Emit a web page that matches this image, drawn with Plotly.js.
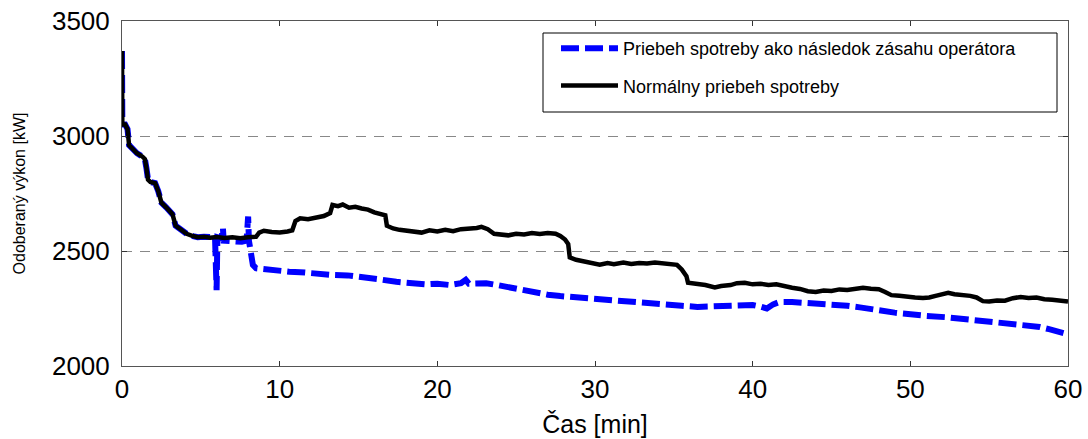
<!DOCTYPE html>
<html>
<head>
<meta charset="utf-8">
<script src="https://cdn.plot.ly/plotly-3.0.1.min.js"></script>
<style>html,body{margin:0;padding:0;background:#fff;}#chart{width:1088px;height:439px;}</style>
</head>
<body>
<div id="chart"></div>
<script>
// Normal consumption (black)
const tNormal = [0,0.02,0.2,0.35,0.45,0.7,0.95,1.3,1.45,1.55,1.65,1.8,2.1,2.3,2.5,2.8,3.0,3.2,3.4,3.7,4.1,4.5,4.8,5.2,5.6,6.0,6.5,7.0,7.5,8.0,8.5,8.7,9.0,9.5,10.0,10.5,10.8,11.0,11.3,11.8,12.3,12.8,13.2,13.35,13.7,14.0,14.4,14.8,15.2,15.6,16.0,16.4,16.7,16.8,17.2,17.6,18.0,18.5,19.0,19.5,20.0,20.5,21.0,21.5,22.0,22.5,22.8,23.2,23.6,24.0,24.5,25.0,25.5,26.0,26.5,27.0,27.5,27.8,28.1,28.3,28.4,28.8,29.3,29.8,30.3,30.8,31.2,31.8,32.3,32.8,33.3,33.8,34.3,34.8,35.2,35.5,35.8,35.9,36.4,37.0,37.6,38.0,38.6,39.0,39.5,40.0,40.5,41.0,41.5,42.0,42.5,43.0,43.5,44.0,44.5,45.0,45.5,46.0,46.5,47.0,47.5,48.0,48.4,48.8,49.3,49.8,50.3,50.8,51.2,51.6,52.0,52.4,52.8,53.3,53.8,54.2,54.6,55.0,55.5,56.0,56.5,57.0,57.5,58.0,58.5,59.0,59.5,60.0];
const pNormal = [3370,3050,3050,3030,2960,2940,2925,2910,2900,2860,2810,2800,2795,2760,2710,2690,2678,2660,2610,2595,2575,2565,2560,2562,2558,2561,2557,2560,2556,2560,2562,2580,2588,2583,2580,2585,2590,2630,2642,2638,2645,2652,2665,2700,2695,2702,2688,2692,2685,2680,2668,2660,2655,2610,2598,2592,2588,2584,2580,2590,2585,2592,2586,2595,2596,2600,2605,2595,2575,2570,2568,2575,2572,2578,2574,2578,2575,2565,2550,2530,2472,2462,2455,2445,2440,2448,2443,2450,2444,2448,2446,2450,2447,2445,2440,2420,2390,2362,2358,2352,2342,2348,2352,2360,2362,2355,2358,2352,2355,2346,2340,2335,2325,2322,2328,2326,2333,2330,2336,2340,2336,2334,2322,2308,2305,2300,2298,2296,2298,2305,2312,2318,2312,2310,2305,2298,2282,2280,2285,2284,2295,2300,2296,2298,2290,2288,2284,2280];

// Consumption after operator intervention (blue dashed)
const tOperator = [0,0.02,0.2,0.35,0.45,0.7,0.95,1.3,1.45,1.55,1.65,1.8,2.1,2.3,2.5,2.8,3.0,3.2,3.4,3.7,4.1,4.5,4.8,5.2,5.6,5.9,6.0,6.05,6.3,6.4,6.45,6.8,7.2,7.6,7.9,8.0,8.05,8.15,8.3,8.5,9.0,9.5,10.0,10.6,11.3,12.0,12.6,13.3,14.3,15.0,15.5,16.5,17.4,18.3,19.3,20.0,20.8,21.5,21.8,22.0,22.6,23.1,23.8,24.3,24.8,25.5,26.1,27.0,27.8,28.5,29.2,30.1,31.1,32.0,33.3,34.5,35.5,36.5,37.5,38.5,39.2,40.0,40.5,40.9,41.3,41.7,42.5,43.8,44.5,45.2,46.0,46.8,47.5,48.1,49.0,49.5,50.2,51.0,52.3,53.3,54.4,55.2,55.8,56.5,57.3,58.2,58.8,59.3,60.0];
const pOperator = [3370,3050,3050,3030,2960,2940,2925,2910,2900,2860,2810,2800,2795,2760,2710,2690,2678,2660,2610,2595,2575,2565,2560,2562,2558,2560,2330,2560,2555,2600,2545,2542,2545,2540,2545,2650,2545,2500,2440,2425,2420,2416,2414,2410,2408,2403,2398,2396,2394,2390,2382,2375,2366,2360,2355,2358,2352,2360,2375,2358,2362,2360,2352,2345,2340,2330,2318,2310,2304,2300,2292,2293,2282,2280,2270,2265,2262,2257,2259,2260,2262,2265,2258,2250,2268,2278,2278,2274,2270,2268,2262,2255,2246,2240,2232,2228,2222,2218,2212,2205,2198,2192,2182,2178,2173,2170,2160,2150,2138];

const seriesNames = ['Priebeh spotreby ako následok zásahu operátora', 'Normálny priebeh spotreby'];
const xTicks = [0,10,20,30,40,50,60];
const yTicks = [2000,2500,3000,3500];

const FONT = 'Liberation Sans, Arial, Helvetica, sans-serif';

const traces = [
  {x: tOperator, y: pOperator, name: seriesNames[0], type: 'scatter', mode: 'lines',
   legendgroup: 'a', line: {color: '#0000ff', width: 6, dash: '18px,6px'}},
  {x: tNormal, y: pNormal, name: seriesNames[1], type: 'scatter', mode: 'lines',
   legendgroup: 'b', line: {color: '#000000', width: 4.5}}
];

const W = 946, H = 345, L = 122, T = 21;
function px2x(p){ return (p - L) / W; }
function px2y(p){ return 1 - (p - T) / H; }

const axisCommon = {
  showline: true, mirror: 'ticks', linecolor: '#555', linewidth: 1,
  ticks: 'inside', ticklen: 5, tickcolor: '#333', tickwidth: 1,
  tickfont: {family: FONT, size: 26, color: '#000'}, zeroline: false
};

const layout = {
  width: 1088, height: 439,
  margin: {l: L, r: 20, t: T, b: 73},
  paper_bgcolor: '#fff', plot_bgcolor: '#fff',
  font: {family: FONT, color: '#000'},
  showlegend: true,
  xaxis: Object.assign({}, axisCommon, {
    range: [0, 60], tickvals: xTicks, ticktext: xTicks.map(String), showgrid: false,
    title: {text: 'Čas [min]', font: {family: FONT, size: 25, color: '#000'}, standoff: 12}
  }),
  yaxis: Object.assign({}, axisCommon, {
    range: [2000, 3500], tickvals: yTicks, ticktext: yTicks.map(String),
    showgrid: true, gridcolor: '#888', gridwidth: 1, griddash: '10px,8px',
    ticklabelstandoff: 6,
    title: {text: 'Odoberaný výkon [kW]', font: {family: FONT, size: 16, color: '#000'}, standoff: 22}
  }),
  legend: {
    x: px2x(556), y: px2y(30), xanchor: 'left', yanchor: 'top',
    bgcolor: 'rgba(0,0,0,0)', borderwidth: 0,
    font: {family: FONT, size: 18, color: '#000'},
    itemwidth: 57, traceorder: 'grouped', tracegroupgap: 11
  },
  shapes: [{
    type: 'rect', xref: 'paper', yref: 'paper',
    x0: px2x(543), x1: px2x(1057), y0: px2y(112), y1: px2y(33),
    line: {color: '#000', width: 1}, fillcolor: 'rgba(255,255,255,1)', layer: 'below'
  }]
};

Plotly.newPlot('chart', traces, layout, {displayModeBar: false, staticPlot: true});
</script>
</body>
</html>
